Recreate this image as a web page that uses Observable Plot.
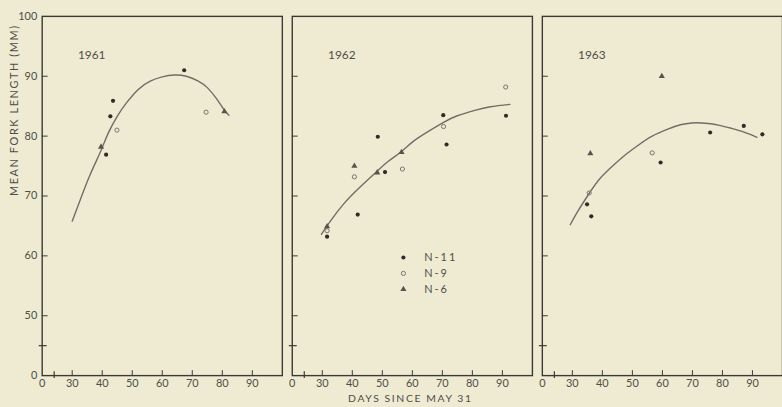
<!DOCTYPE html>
<html><head><meta charset="utf-8">
<script src="https://cdn.jsdelivr.net/npm/d3@7"></script>
<script src="https://cdn.jsdelivr.net/npm/@observablehq/plot@0.6"></script>
<style>
html,body{margin:0;padding:0;background:#efebd3;overflow:hidden;width:782px;height:407px}
#chart svg{display:block}
</style></head><body><div id="chart"></div>
<script>
// ---- data ----
const years = [1961, 1962, 1963];
const stations = ["N-11", "N-9", "N-6"];

// [year, days since May 31, mean fork length (mm)]
const n11 = [
  [1961, 41.3, 76.9], [1961, 42.7, 83.3], [1961, 43.6, 85.9], [1961, 67.3, 91.0],
  [1962, 31.6, 63.2], [1962, 41.8, 66.9], [1962, 48.5, 79.9], [1962, 50.9, 74.0],
  [1962, 70.3, 83.5], [1962, 71.4, 78.6], [1962, 91.2, 83.4],
  [1963, 34.9, 68.6], [1963, 36.3, 66.6], [1963, 59.4, 75.6], [1963, 75.9, 80.6],
  [1963, 87.1, 81.7], [1963, 93.3, 80.3]
];
const n9 = [
  [1961, 44.9, 81.0], [1961, 74.6, 84.0],
  [1962, 31.6, 64.2], [1962, 40.7, 73.2], [1962, 56.7, 74.5], [1962, 70.4, 81.6], [1962, 91.1, 88.2],
  [1963, 35.6, 70.5], [1963, 56.6, 77.2]
];
const n6 = [
  [1961, 39.6, 78.2], [1961, 80.7, 84.1],
  [1962, 31.6, 64.9], [1962, 40.7, 75.0], [1962, 48.3, 73.9], [1962, 56.4, 77.3],
  [1963, 36.0, 77.1], [1963, 59.8, 90.0]
];
// fitted growth curves
const curve1961 = [[30,65.8],[33,69.8],[36,73.6],[39.6,77.6],[42,80.5],[45,83.3],[48,85.5],[52,87.8],[56,89.2],[60,89.9],[64,90.2],[68,90.0],[72,89.2],[75,88.1],[78,86.3],[80.6,84.4],[82.2,83.5]];
const curve1962 = [[29.7,63.6],[33,66.0],[37,68.6],[42,71.2],[48,74.0],[52,75.8],[56.3,77.4],[60,79.0],[64.4,80.5],[70.4,82.3],[75,83.4],[80.8,84.3],[86,84.9],[92.5,85.3]];
const curve1963 = [[29.3,65.2],[32,67.6],[35.7,70.5],[39,72.8],[43.4,75.0],[48,77.0],[52,78.5],[56.6,80.0],[62,81.2],[66,81.9],[69.8,82.2],[73,82.2],[75.3,82.1],[79,81.8],[83,81.3],[87,80.7],[91.5,79.8]];

const xDomain = [20, 100];
const yDomain = [40, 100];
const xTickValues = [20, 30, 40, 50, 60, 70, 80, 90];
const xTickLabels = ["0", "30", "40", "50", "60", "70", "80", "90"];
const yTickValues = [40, 50, 60, 70, 80, 90, 100];
const yTickLabels = ["0", "50", "60", "70", "80", "90", "100"];
const xInnerTicks = [30, 40, 50, 60, 70, 80, 90];
const yInnerTicks = [50, 60, 70, 80, 90];
const yBreak = [45];
const xBreak = [24];
const xTitle = "DAYS SINCE MAY 31";
const yTitle = "MEAN FORK LENGTH (MM)";

// ---- tables ----
const toObs = (arr, s) => arr.map(([year, day, len]) => ({year, day, len, station: s}));
const obs11 = toObs(n11, "N-11"), obs9 = toObs(n9, "N-9"), obs6 = toObs(n6, "N-6");
const curves = [[1961, curve1961], [1962, curve1962], [1963, curve1963]]
  .flatMap(([year, pts]) => pts.map(([day, len]) => ({year, day, len})));
const legendRows = stations.map(s => ({year: 1962, label: s}));

const ink = "#3a3a35";
const txt = "#4d4d47";
const styles = {
  "N-11": {fill: "#2c2c29", r: 2.1},
  "N-9": {fill: "none", stroke: "#74746c", strokeWidth: 1, r: 2.1},
  "N-6": {fill: "#55554e", symbol: "triangle", r: 2.3}
};

const legendMarks = legendRows.flatMap((d, i) => [
  Plot.dot([d], {fx: "year", frameAnchor: "top-left", dx: 112, dy: 243 + i * 16, ...styles[d.label]}),
  Plot.text([d], {fx: "year", frameAnchor: "top-left", dx: 133, dy: 243 + i * 16, text: "label", textAnchor: "start", lineAnchor: "middle", fontSize: 11, fill: txt})
]);

const plot = Plot.plot({
  width: 788, height: 407,
  marginLeft: 42, marginRight: 0, marginTop: 16, marginBottom: 29,
  style: {background: "transparent", fontFamily: "Lato, 'Open Sans', sans-serif", color: txt},
  fx: {domain: years, paddingInner: 0.04, paddingOuter: 0, axis: null, label: null},
  x: {domain: xDomain, label: null},
  y: {domain: yDomain, label: null},
  marks: [
    Plot.axisY(yTickValues, {tickSize: 0, tickPadding: 5, fontSize: 11, fill: txt, label: null,
      tickFormat: d => yTickLabels[yTickValues.indexOf(d)]}),
    Plot.axisX(xTickValues, {tickSize: 0, tickPadding: 4, fontSize: 11, fill: txt, label: null,
      tickFormat: d => xTickLabels[xTickValues.indexOf(d)]}),
    Plot.tickY(yInnerTicks, {insetRight: 236, stroke: ink, strokeWidth: 1}),
    Plot.tickX(xInnerTicks, {insetTop: 357, stroke: ink, strokeWidth: 1}),
    Plot.frame({stroke: ink, strokeWidth: 1.4}),
    Plot.ruleY(yBreak, {insetLeft: -3, insetRight: 237, stroke: ink, strokeWidth: 1.2}),
    Plot.ruleX(xBreak, {insetTop: 358, insetBottom: -3, stroke: ink, strokeWidth: 1.2}),
    Plot.line(curves, {x: "day", y: "len", fx: "year", curve: "natural", stroke: "#6e6e67", strokeWidth: 1.4}),
    Plot.dot(obs9, {x: "day", y: "len", fx: "year", ...styles["N-9"]}),
    Plot.dot(obs6, {x: "day", y: "len", fx: "year", ...styles["N-6"]}),
    Plot.dot(obs11, {x: "day", y: "len", fx: "year", ...styles["N-11"]}),
    Plot.text(years.map(y => ({year: y})), {fx: "year", text: d => String(d.year), frameAnchor: "top-left", dx: 36, dy: 39, textAnchor: "start", lineAnchor: "middle", fontSize: 12, fill: txt}),
    Plot.text([{year: 1962}], {fx: "year", text: () => xTitle, frameAnchor: "bottom", lineAnchor: "bottom", dx: -2, dy: 27, fontSize: 10.5, fill: txt}),
    Plot.text([{year: 1961}], {fx: "year", text: () => yTitle, frameAnchor: "left", lineAnchor: "middle", rotate: -90, dx: -28, fontSize: 11, fill: txt}),
    ...legendMarks
  ]
});
document.getElementById("chart").append(plot);
d3.select(plot).selectAll("text")
  .filter(function() { return this.textContent === xTitle || this.textContent === yTitle; })
  .style("letter-spacing", "1.6px");
d3.select(plot).selectAll("text")
  .filter(function() { return stations.includes(this.textContent); })
  .style("letter-spacing", "2px");
</script>
</body></html>
